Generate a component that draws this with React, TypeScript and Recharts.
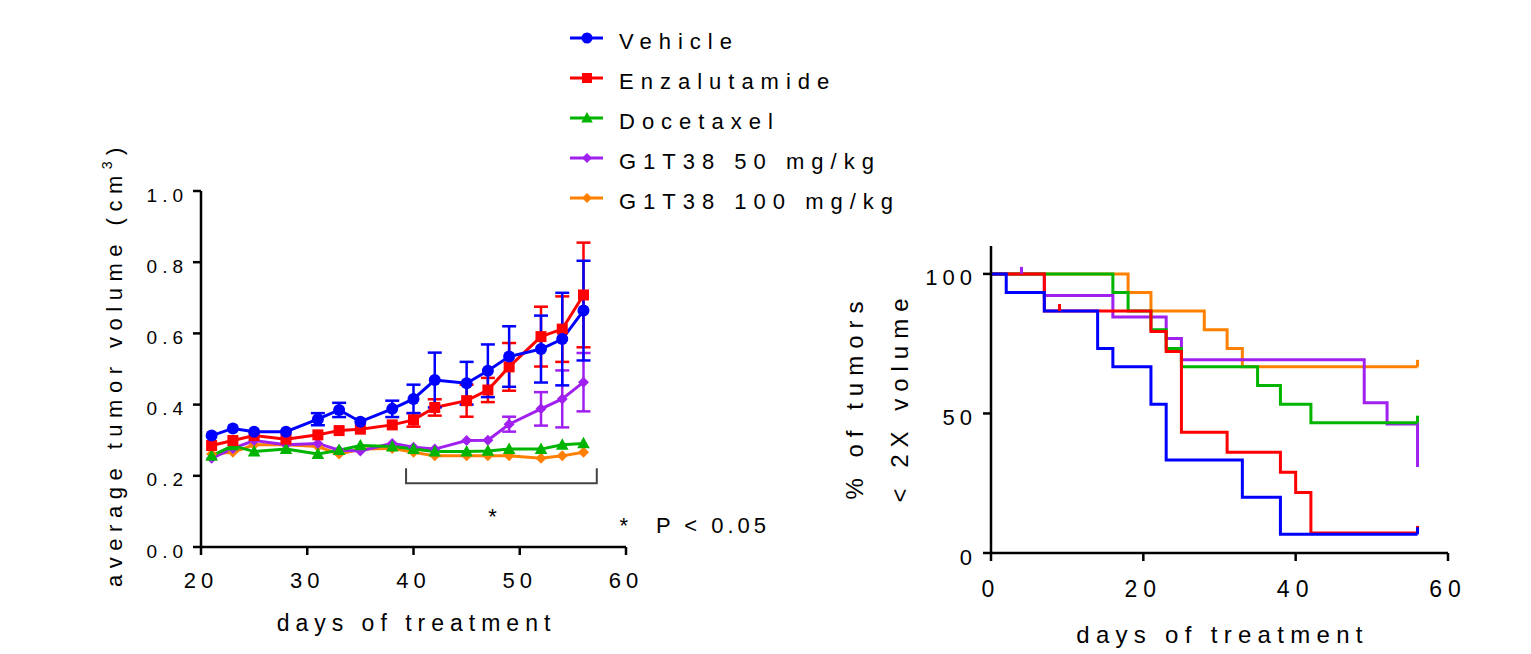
import React from "react";
import { LineChart, Line, XAxis, YAxis, ErrorBar, ReferenceDot } from "recharts";

const FONT = "'Liberation Sans', Arial, Helvetica, sans-serif";

// groups (legend order)
const groups = ["Vehicle", "Enzalutamide", "Docetaxel", "G1T38 50 mg/kg", "G1T38 100 mg/kg"];
const colors = ["#0000FF", "#FF0000", "#00B400", "#A020F0", "#FF8000"];
const shapes = ["circle", "square", "triangle", "diamond", "diamond"];
const volKeys = ["veh", "enz", "doc", "g50", "g100"];

// left panel: average tumor volume (cm3)
const days = [21, 23, 25, 28, 31, 33, 35, 38, 40, 42, 45, 47, 49, 52, 54, 56];
const vehicle = [0.313, 0.333, 0.324, 0.324, 0.359, 0.385, 0.352, 0.388, 0.416, 0.469, 0.46, 0.495, 0.535, 0.556, 0.584, 0.664];
const vehicleErr = [null, null, null, null, 0.017, 0.02, null, 0.023, 0.04, 0.077, 0.06, 0.074, 0.085, 0.094, 0.13, 0.14];
const enzalutamide = [0.285, 0.299, 0.313, 0.303, 0.315, 0.327, 0.331, 0.343, 0.357, 0.392, 0.411, 0.441, 0.506, 0.591, 0.612, 0.708];
const enzalutamideErr = [null, null, null, null, null, null, null, null, 0.019, 0.023, 0.045, 0.034, 0.067, 0.084, 0.092, 0.147];
const docetaxel = [0.256, 0.285, 0.268, 0.275, 0.261, 0.272, 0.285, 0.282, 0.275, 0.268, 0.268, 0.27, 0.275, 0.275, 0.287, 0.291];
const g50 = [0.249, 0.277, 0.299, 0.287, 0.291, 0.272, 0.27, 0.291, 0.28, 0.275, 0.299, 0.3, 0.345, 0.388, 0.416, 0.463];
const g50Err = [null, null, null, null, null, null, null, null, null, null, null, null, 0.021, 0.047, 0.08, 0.082];
const g100 = [0.261, 0.266, 0.287, 0.287, 0.282, 0.261, 0.275, 0.277, 0.266, 0.256, 0.256, 0.256, 0.256, 0.249, 0.256, 0.266];

const volumeTable = days.map((d, i) => ({
  day: d,
  veh: vehicle[i],
  vehErr: vehicleErr[i],
  enz: enzalutamide[i],
  enzErr: enzalutamideErr[i],
  doc: docetaxel[i],
  g50: g50[i],
  g50Err: g50Err[i],
  g100: g100[i],
}));

// significance bracket
const bracketDays = [39.3, 39.3, 57.25, 57.25];
const bracketVals = [0.221, 0.179, 0.179, 0.221];
const bracketData = bracketDays.map((d, i) => ({ day: d, v: bracketVals[i] }));

// right panel: % of tumors < 2X volume (Kaplan-Meier)
const kmVehicleT = [0, 2, 7, 14, 16, 21, 23, 33, 38, 56];
const kmVehicleP = [100, 93.3, 86.7, 73.3, 66.7, 53.3, 33.3, 20, 6.7, 6.7];
const kmEnzT = [0, 7, 9, 21, 23, 25, 31, 38, 40, 42, 56];
const kmEnzP = [100, 86.7, 86.7, 79.4, 72.2, 43.3, 36.1, 28.9, 21.7, 7.2, 7.2];
const kmDocT = [0, 16, 18, 21, 23, 25, 35, 38, 42, 56];
const kmDocP = [100, 93.3, 86.7, 80, 73.3, 66.7, 60, 53.3, 46.7, 46.7];
const kmG50T = [0, 4, 7, 16, 23, 25, 49, 52, 56];
const kmG50P = [100, 100, 92.3, 84.6, 76.9, 69.2, 53.8, 46.2, 30.8];
const kmG100T = [0, 18, 21, 28, 31, 33, 56];
const kmG100P = [100, 93.3, 86.7, 80, 73.3, 66.7, 66.7];
const censored = [[56], [9, 56], [56], [4], [56]];

const kmSeries = [
  [kmVehicleT, kmVehicleP],
  [kmEnzT, kmEnzP],
  [kmDocT, kmDocP],
  [kmG50T, kmG50P],
  [kmG100T, kmG100P],
].map(([t, p], g) => t.map((d, i) => ({ day: d, p: p[i], c: censored[g].includes(d) })));

function Marker({ shape, cx, cy, color, s }: any) {
  if (shape === "circle") return <circle cx={cx} cy={cy} r={s} fill={color} />;
  if (shape === "square") return <rect x={cx - s} y={cy - s} width={2 * s} height={2 * s} fill={color} />;
  if (shape === "triangle")
    return <polygon points={`${cx},${cy - s * 1.1} ${cx - s * 1.05},${cy + s * 0.8} ${cx + s * 1.05},${cy + s * 0.8}`} fill={color} />;
  return <polygon points={`${cx},${cy - s} ${cx + s},${cy} ${cx},${cy + s} ${cx - s},${cy}`} fill={color} />;
}

const markerSize: Record<string, number> = { circle: 6, square: 5.5, triangle: 6, diamond: 5.5 };

const volumeDot = (g: number) => (p: any) => {
  if (p.cx == null || p.cy == null) return <g key={`d${g}-${p.index}`} />;
  return (
    <g key={`d${g}-${p.index}`}>
      <Marker shape={shapes[g]} cx={p.cx} cy={p.cy} color={colors[g]} s={markerSize[shapes[g]]} />
    </g>
  );
};

const censorDot = (g: number) => (p: any) => {
  if (!p.payload || !p.payload.c) return <g key={`c${g}-${p.index}`} />;
  return <line key={`c${g}-${p.index}`} x1={p.cx} x2={p.cx} y1={p.cy} y2={p.cy - 7} stroke={colors[g]} strokeWidth={3} />;
};

const axisStyle = { stroke: "#000", strokeWidth: 2.5 };
const txt = { fontFamily: FONT, fill: "#000" };

const leftYTick = (p: any) => (
  <text x={p.x} y={p.y + 4} textAnchor="end" dominantBaseline="central" fontSize={19} letterSpacing={5} {...txt}>
    {Number(p.payload.value).toFixed(1)}
  </text>
);
const leftXTick = (p: any) => (
  <text x={p.x} y={p.y} dy="0.72em" textAnchor="middle" fontSize={22} letterSpacing={5} {...txt}>
    {p.payload.value}
  </text>
);
const rightYTick = (p: any) => (
  <text x={p.x} y={p.y + 4} textAnchor="end" dominantBaseline="central" fontSize={22} letterSpacing={5} {...txt}>
    {p.payload.value}
  </text>
);
const rightXTick = (p: any) => (
  <text x={p.x} y={p.y} dy="0.72em" textAnchor="middle" fontSize={23} letterSpacing={6} {...txt}>
    {p.payload.value}
  </text>
);

function Legend() {
  return (
    <svg width={400} height={230} style={{ position: "absolute", left: 560, top: 0 }}>
      {groups.map((name, g) => {
        const y = 38 + g * 40;
        return (
          <g key={name}>
            <line x1={10} x2={43} y1={y} y2={y} stroke={colors[g]} strokeWidth={3} />
            <Marker shape={shapes[g]} cx={27} cy={y} color={colors[g]} s={markerSize[shapes[g]] - 0.5} />
            <text x={59} y={y + 11} fontSize={22} letterSpacing={7} {...txt}>
              {name}
            </text>
          </g>
        );
      })}
    </svg>
  );
}

export default function App() {
  const order = [4, 3, 2, 1, 0];
  return (
    <div style={{ position: "relative", width: 1531, height: 654, background: "#fff", fontFamily: FONT }}>
      <style>{"body{margin:0}"}</style>

      {/* left: tumor volume */}
      <div style={{ position: "absolute", left: 0, top: 0 }}>
        <LineChart width={820} height={654} data={volumeTable} margin={{ top: 191, right: 194, bottom: 47, left: 141 }}>
          <XAxis
            dataKey="day"
            type="number"
            domain={[20, 60]}
            ticks={[20, 30, 40, 50, 60]}
            allowDataOverflow
            height={60}
            axisLine={axisStyle}
            tickLine={axisStyle}
            tickSize={8}
            tickMargin={17}
            tick={leftXTick}
            label={{
              content: (p: any) => (
                <text x={p.viewBox.x + p.viewBox.width / 2 + 3} y={631} textAnchor="middle" fontSize={23} letterSpacing={6} {...txt}>
                  days of treatment
                </text>
              ),
            }}
          />
          <YAxis
            type="number"
            domain={[0, 1]}
            ticks={[0, 0.2, 0.4, 0.6, 0.8, 1]}
            allowDataOverflow
            width={60}
            axisLine={axisStyle}
            tickLine={axisStyle}
            tickSize={8}
            tickMargin={5}
            tick={leftYTick}
            label={{
              content: () => (
                <text transform="translate(122,364) rotate(-90)" textAnchor="middle" fontSize={22} letterSpacing={6.5} {...txt}>
                  average tumor volume (cm
                  <tspan fontSize={14} dy={-10}>
                    3
                  </tspan>
                  <tspan dy={10}>)</tspan>
                </text>
              ),
            }}
          />
          <Line data={bracketData} dataKey="v" stroke="#444" strokeWidth={2} dot={false} activeDot={false} isAnimationActive={false} />
          {order.map((g) => (
            <Line
              key={volKeys[g]}
              dataKey={volKeys[g]}
              stroke={colors[g]}
              strokeWidth={3}
              dot={volumeDot(g)}
              activeDot={false}
              isAnimationActive={false}
            >
              {volumeTable[0][`${volKeys[g]}Err` as keyof (typeof volumeTable)[0]] !== undefined && (
                <ErrorBar dataKey={`${volKeys[g]}Err`} stroke={colors[g]} strokeWidth={2.5} width={7} isAnimationActive={false} />
              )}
            </Line>
          ))}
          <ReferenceDot
            x={47.43}
            y={0.065}
            r={0}
            ifOverflow="visible"
            shape={(p: any) => (
              <text x={p.cx} y={p.cy} textAnchor="middle" fontSize={22} {...txt}>
                *
              </text>
            )}
          />
          <ReferenceDot
            x={59.8}
            y={0.038}
            r={0}
            ifOverflow="visible"
            shape={(p: any) => (
              <g>
                <text x={p.cx} y={p.cy} textAnchor="middle" fontSize={22} {...txt}>
                  *
                </text>
                <text x={p.cx + 32} y={p.cy} fontSize={22} letterSpacing={4} {...txt}>
                  P &lt; 0.05
                </text>
              </g>
            )}
          />
        </LineChart>
      </div>

      <Legend />

      {/* right: % of tumors < 2X volume */}
      <div style={{ position: "absolute", left: 830, top: 0 }}>
        <LineChart width={701} height={654} margin={{ top: 246, right: 83, bottom: 41, left: 101 }}>
          <XAxis
            dataKey="day"
            type="number"
            domain={[0, 60]}
            ticks={[0, 20, 40, 60]}
            allowDataOverflow
            height={60}
            axisLine={axisStyle}
            tickLine={axisStyle}
            tickSize={8}
            tickMargin={19}
            tick={rightXTick}
            label={{
              content: (p: any) => (
                <text x={p.viewBox.x + p.viewBox.width / 2 + 3} y={643} textAnchor="middle" fontSize={24} letterSpacing={6.3} {...txt}>
                  days of treatment
                </text>
              ),
            }}
          />
          <YAxis
            type="number"
            domain={[0, 110]}
            ticks={[0, 50, 100]}
            allowDataOverflow
            width={60}
            axisLine={axisStyle}
            tickLine={axisStyle}
            tickSize={8}
            tickMargin={6}
            tick={rightYTick}
            label={{
              content: () => (
                <g>
                  <text transform="translate(33,397) rotate(-90)" textAnchor="middle" fontSize={24} letterSpacing={7} {...txt}>
                    % of tumors
                  </text>
                  <text transform="translate(78,397) rotate(-90)" textAnchor="middle" fontSize={24} letterSpacing={7} {...txt}>
                    &lt; 2X volume
                  </text>
                </g>
              ),
            }}
          />
          {order.map((g) => (
            <Line
              key={`km${g}`}
              data={kmSeries[g]}
              dataKey="p"
              type="stepAfter"
              stroke={colors[g]}
              strokeWidth={3}
              dot={censorDot(g)}
              activeDot={false}
              isAnimationActive={false}
            />
          ))}
        </LineChart>
      </div>
    </div>
  );
}
